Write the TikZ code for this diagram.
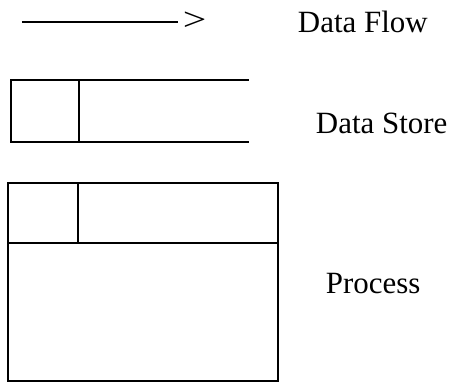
\documentclass[tikz,border=0pt]{standalone}
\usepackage{fontspec}
\setmainfont{Liberation Serif}
\usetikzlibrary{positioning}

\begin{document}
\begin{tikzpicture}[x=0.02cm,y=-0.02cm,line width=1.1pt,
	lbl/.style={inner sep=0pt,anchor=base west,font=\fontsize{17.6}{21}\selectfont}]
	\useasboundingbox (0,0) rectangle (451,383);
	% data flow
	\coordinate (f0) at (22,22);
	\coordinate (f1) at (178,22);
	\node (gt) [lbl] at (182,30) {\scalebox{1.35}[1.05]{>}};
	\draw[line width=0.8pt] (f0) -- (f1);
	\node (flow) [lbl] at (297,32) {Data Flow};
	% data store
	\draw (249,80) -- (11,80) -- (11,142) -- (249,142);
	\draw (79,80) -- (79,142);
	\node (store) [lbl] at (315,133) {Data Store};
	% process
	\draw (8,183) rectangle (278,381);
	\draw (8,243) -- (278,243);
	\draw (78,183) -- (78,243);
	\node (proc) [lbl] at (325,293) {Process};
\end{tikzpicture}
\end{document}
